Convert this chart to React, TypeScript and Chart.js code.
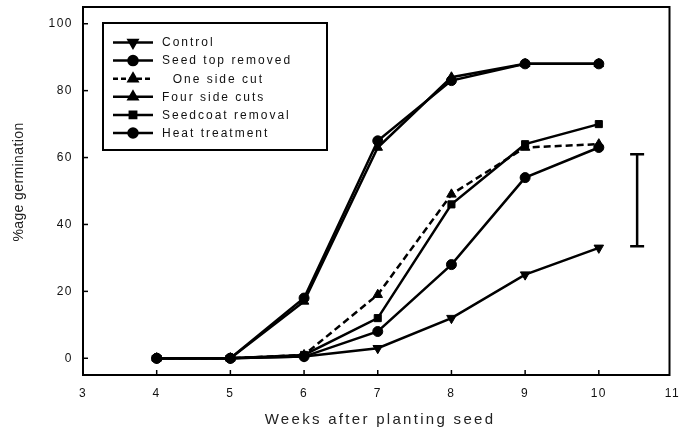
import React, { useEffect, useRef } from 'react';
import { Chart, registerables } from 'chart.js';
import { drawPoint } from 'chart.js/helpers';

Chart.register(...registerables);

const weeks = [4, 5, 6, 7, 8, 9, 10];
const control = [0, 0, 0.5, 3, 12, 25, 33];
const seedTopRemoved = [0, 0, 18, 65, 83, 88, 88];
const oneSideCut = [0, 0, 1, 19, 49, 63, 64];
const fourSideCuts = [0, 0, 17, 63, 84, 88, 88];
const seedcoatRemoval = [0, 0, 1, 12, 46, 64, 70];
const heatTreatment = [0, 0, 0.5, 8, 28, 54, 63];
const seriesLabels = ['Control', 'Seed top removed', '  One side cut', 'Four side cuts', 'Seedcoat removal', 'Heat treatment'];
const xTicks = [3, 4, 5, 6, 7, 8, 9, 10, 11];
const yTicks = [0, 20, 40, 60, 80, 100];
const errorBarX = [10.52];
const errorBarLow = [33.5];
const errorBarHigh = [61];
const xTitle = 'Weeks after planting seed';
const yTitle = '%age germination';

const seriesValues = [control, seedTopRemoved, oneSideCut, fourSideCuts, seedcoatRemoval, heatTreatment];
const seriesStyles = [
  { pointStyle: 'triangle', rotation: 180, radius: 5.5, dash: [] as number[] },
  { pointStyle: 'circle', rotation: 0, radius: 5, dash: [] as number[] },
  { pointStyle: 'triangle', rotation: 0, radius: 5.5, dash: [7, 4] },
  { pointStyle: 'triangle', rotation: 0, radius: 5.5, dash: [] as number[] },
  { pointStyle: 'rect', rotation: 0, radius: 5, dash: [] as number[] },
  { pointStyle: 'circle', rotation: 0, radius: 5, dash: [] as number[] },
];

const decorPlugin = {
  id: 'decor',
  beforeDraw(chart: any) {
    chart.ctx.letterSpacing = '1.5px';
  },
  afterDraw(chart: any) {
    const { ctx, chartArea: a, scales } = chart;
    const x = scales.x;
    const y = scales.y;
    ctx.save();
    ctx.letterSpacing = '0px';
    ctx.strokeStyle = '#000';
    ctx.fillStyle = '#000';
    ctx.setLineDash([]);
    // frame
    ctx.lineWidth = 2;
    ctx.strokeRect(a.left, a.top, a.right - a.left - 3, a.bottom - a.top);
    // inward ticks
    ctx.lineWidth = 1.5;
    xTicks.forEach((v) => {
      if (v === xTicks[xTicks.length - 1]) return;
      const px = x.getPixelForValue(v);
      ctx.beginPath();
      ctx.moveTo(px, a.bottom);
      ctx.lineTo(px, a.bottom - 5);
      ctx.stroke();
    });
    yTicks.forEach((v) => {
      const py = y.getPixelForValue(v);
      ctx.beginPath();
      ctx.moveTo(a.left, py);
      ctx.lineTo(a.left + 5, py);
      ctx.stroke();
    });
    // error bar
    ctx.lineWidth = 2.5;
    errorBarX.forEach((ex, i) => {
      const px = x.getPixelForValue(ex);
      const top = y.getPixelForValue(errorBarHigh[i]);
      const bot = y.getPixelForValue(errorBarLow[i]);
      ctx.beginPath();
      ctx.moveTo(px, top);
      ctx.lineTo(px, bot);
      ctx.moveTo(px - 7, top);
      ctx.lineTo(px + 7, top);
      ctx.moveTo(px - 7, bot);
      ctx.lineTo(px + 7, bot);
      ctx.stroke();
    });
    // legend
    ctx.lineWidth = 2;
    ctx.strokeRect(103, 23, 224, 127);
    ctx.font = '12px "Liberation Sans", Arial, sans-serif';
    ctx.textBaseline = 'middle';
    ctx.textAlign = 'left';
    seriesLabels.forEach((lab, i) => {
      const st = seriesStyles[i];
      const ry = 42.5 + i * 18.1;
      ctx.lineWidth = 2.5;
      ctx.setLineDash(st.dash.length ? [5, 3] : []);
      ctx.beginPath();
      ctx.moveTo(113, ry);
      ctx.lineTo(153, ry);
      ctx.stroke();
      ctx.setLineDash([]);
      ctx.fillStyle = '#000';
      drawPoint(ctx, { pointStyle: st.pointStyle as any, rotation: st.rotation, radius: st.radius - 0.5, borderWidth: 1 }, 133, ry);
      ctx.fillStyle = '#111';
      ctx.letterSpacing = '2px';
      ctx.fillText(lab, 162, ry + 0.5);
      ctx.letterSpacing = '0px';
    });
    // axis titles
    ctx.fillStyle = '#222';
    ctx.font = '15px "Liberation Sans", Arial, sans-serif';
    ctx.letterSpacing = '2.3px';
    ctx.textAlign = 'center';
    ctx.textBaseline = 'alphabetic';
    ctx.fillText(xTitle, 380, 424);
    ctx.letterSpacing = '0.4px';
    ctx.font = '14px "Liberation Sans", Arial, sans-serif';
    ctx.translate(19, 182);
    ctx.rotate(-Math.PI / 2);
    ctx.textBaseline = 'middle';
    ctx.fillText(yTitle, 0, 0);
    ctx.restore();
  },
};

export default function App() {
  const ref = useRef<HTMLCanvasElement>(null);
  useEffect(() => {
    const chart = new Chart(ref.current as HTMLCanvasElement, {
      type: 'line',
      data: {
        datasets: seriesValues.map((vals, i) => ({
          label: seriesLabels[i],
          data: weeks.map((w, j) => ({ x: w, y: vals[j] })),
          borderColor: '#000',
          backgroundColor: '#000',
          borderWidth: 2.5,
          borderDash: seriesStyles[i].dash,
          pointStyle: seriesStyles[i].pointStyle as any,
          pointRotation: seriesStyles[i].rotation,
          pointRadius: seriesStyles[i].radius,
          pointBackgroundColor: '#000',
          pointBorderColor: '#000',
          pointBorderWidth: 1,
          tension: 0,
          fill: false,
        })),
      },
      options: {
        responsive: false,
        animation: false,
        layout: { padding: { left: 0, top: 7, right: 3, bottom: 0 } },
        plugins: { legend: { display: false }, tooltip: { enabled: false } },
        scales: {
          x: {
            type: 'linear',
            min: 3,
            max: 11,
            grid: { display: false },
            border: { display: false },
            afterBuildTicks: (s: any) => {
              s.ticks = xTicks.map((v) => ({ value: v }));
            },
            afterFit: (s: any) => {
              s.height = 56;
              s.paddingLeft = 0;
              s.paddingRight = 0;
            },
            ticks: {
              padding: 3,
              color: '#111',
              font: { family: '"Liberation Sans", Arial, sans-serif', size: 12 },
              maxRotation: 0,
              autoSkip: false,
            },
          },
          y: {
            type: 'linear',
            min: -5,
            max: 105,
            grid: { display: false },
            border: { display: false },
            afterBuildTicks: (s: any) => {
              s.ticks = yTicks.map((v) => ({ value: v }));
            },
            afterFit: (s: any) => {
              s.width = 83;
              s.paddingTop = 0;
              s.paddingBottom = 0;
            },
            ticks: {
              padding: 2,
              color: '#111',
              font: { family: '"Liberation Sans", Arial, sans-serif', size: 12 },
            },
          },
        },
      },
      plugins: [decorPlugin],
    });
    return () => chart.destroy();
  }, []);
  return (
    <div style={{ position: 'absolute', left: 0, top: 0, width: 679, height: 431, background: '#fff' }}>
      <canvas ref={ref} width={679} height={431} style={{ display: 'block' }} />
    </div>
  );
}
